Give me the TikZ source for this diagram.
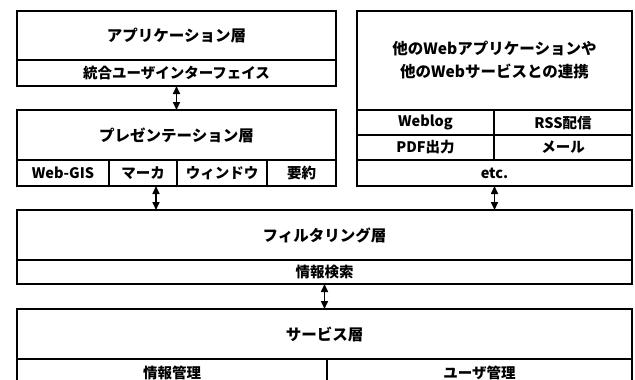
\documentclass[tikz,border=0pt]{standalone}
\usepackage{fontspec}
\setmainfont{Noto Sans CJK JP}
\usetikzlibrary{positioning, arrows.meta}
\tikzset{layer/.style={draw, rectangle, inner sep=0pt, outer sep=0pt, anchor=north west, line width=1.5pt, align=center, font=\bfseries\fontsize{15.5}{23}\selectfont},
    cell/.style={layer, font=\bfseries\fontsize{14.5}{16}\selectfont},
    link/.style={{Triangle[length=8pt,width=7pt]}-{Triangle[length=8pt,width=7pt]}, line width=1.6pt}}

\begin{document}
\begin{tikzpicture}[x=1pt,y=-1pt]
                 \clip (0,0) rectangle (635,380);

                 \node[layer, minimum width=319pt, minimum height=49pt] (app) at (17,11) {アプリケーション層};
                 \node[cell, minimum width=319pt, minimum height=26pt] (ui) at (17,60) {統合ユーザインターフェイス};

                 \node[layer, minimum width=319pt, minimum height=50pt] (pres) at (17,110) {プレゼンテーション層};
                 \node[cell, minimum width=92pt, minimum height=26pt] (webgis) at (17,160) {Web-GIS};
                 \node[cell, minimum width=68pt, minimum height=26pt] (marker) at (109,160) {マーカ};
                 \node[cell, minimum width=90pt, minimum height=26pt] (window) at (177,160) {ウィンドウ};
                 \node[cell, minimum width=69pt, minimum height=26pt] (summary) at (267,160) {要約};

                 \node[layer, minimum width=275pt, minimum height=99pt] (other) at (357,11) {他のWebアプリケーションや\\他のWebサービスとの連携};
                 \node[cell, minimum width=137pt, minimum height=25pt] (weblog) at (357,110) {Weblog};
                 \node[cell, minimum width=138pt, minimum height=25pt] (rss) at (494,110) {RSS配信};
                 \node[cell, minimum width=137pt, minimum height=25pt] (pdf) at (357,135) {PDF出力};
                 \node[cell, minimum width=138pt, minimum height=25pt] (mail) at (494,135) {メール};
                 \node[cell, minimum width=275pt, minimum height=26pt] (etc) at (357,160) {etc.};

                 \node[layer, minimum width=615pt, minimum height=50pt] (filter) at (17,210) {フィルタリング層};
                 \node[cell, minimum width=615pt, minimum height=24pt] (search) at (17,260) {情報検索};

                 \node[layer, minimum width=615pt, minimum height=50pt] (service) at (17,309) {サービス層};
                 \node[cell, minimum width=310pt, minimum height=28pt] (infomgmt) at (17,359) {情報管理};
                 \node[cell, minimum width=305pt, minimum height=28pt] (usermgmt) at (327,359) {ユーザ管理};

                 \draw[link] (ui.south) -- (pres.north);
                 \draw[link] ([xshift=13pt]marker.south) -- ([xshift=13pt]marker.south |- filter.north);
                 \draw[link] (etc.south) -- (etc.south |- filter.north);
                 \draw[link] (search.south) -- (service.north);
\end{tikzpicture}
\end{document}
